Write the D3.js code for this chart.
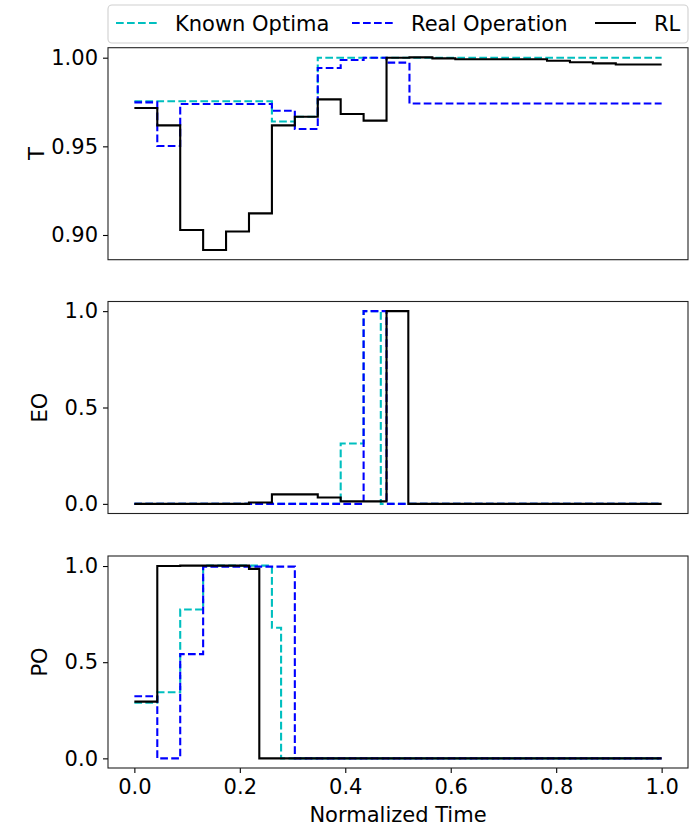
<!DOCTYPE html>
<html>
<head>
<meta charset="utf-8">
<script src="https://cdn.jsdelivr.net/npm/d3@7"></script>
<style>
  body { margin: 0; background: #fff; }
  svg text { font-family: "DejaVu Sans", sans-serif; }
</style>
</head>
<body>
<div id="chart"></div>
<script>
// Time steps are hours 0..23, normalized to 0..1 on the x axis.
// Each series is a list of [hour, value]: the value holds until the next hour listed.
const hourCount = 23;

const seriesNames = ['Known Optima', 'Real Operation', 'RL'];
const seriesColors = ['#00bfbf', '#0000ff', '#000000'];
const seriesDashed = [true, true, false];

const tKnown = [[0, 0.9754], [6, 0.964], [7, 0.9667], [8, 1.0], [23, 1.0]];
const tReal = [[0, 0.9748], [1, 0.9502], [2, 0.9739], [6, 0.9701], [7, 0.9598], [8, 0.9942],
  [9, 0.9987], [10, 1.0], [11, 0.9972], [12, 0.9742], [23, 0.9742]];
const tRL = [[0, 0.9716], [1, 0.9618], [2, 0.9028], [3, 0.8915], [4, 0.902], [5, 0.9122],
  [6, 0.9618], [7, 0.9667], [8, 0.9765], [9, 0.9682], [10, 0.9645], [11, 1.0], [12, 1.0002],
  [13, 0.9996], [14, 0.9991], [18, 0.9983], [19, 0.9974], [20, 0.9968], [21, 0.9962], [23, 0.9962]];

const eoKnown = [[0, 0], [9, 0.313], [10, 1.0], [10.75, 0], [23, 0]];
const eoReal = [[0, 0], [10, 1.0], [11, 0], [23, 0]];
const eoRL = [[0, 0], [5, 0.007], [6, 0.049], [8, 0.033], [9, 0.013], [11, 1.0], [11.95, 0], [23, 0]];

const poKnown = [[0, 0.289], [1, 0.344], [2, 0.774], [3, 1.002], [6, 0.679], [6.4, 0], [23, 0]];
const poReal = [[0, 0.323], [1, 0], [2, 0.542], [3, 0.997], [7, 0], [23, 0]];
const poRL = [[0, 0.295], [1, 1.0], [2, 1.002], [5, 0.985], [5.45, 0], [23, 0]];

const tTicks = [0.90, 0.95, 1.00];
const unitTicks = [0.0, 0.5, 1.0];
const xTicks = [0.0, 0.2, 0.4, 0.6, 0.8, 1.0];

const panels = [
  { label: 'T', series: [tKnown, tReal, tRL], ticks: tTicks, fmt: '.2f', top: 47.7, labelX: 44 },
  { label: 'EO', series: [eoKnown, eoReal, eoRL], ticks: unitTicks, fmt: '.1f', top: 301.5, labelX: 46.5 },
  { label: 'PO', series: [poKnown, poReal, poRL], ticks: unitTicks, fmt: '.1f', top: 556, labelX: 46.5 }
];

const width = 698, height = 826;
const left = 108, right = 688, panelH = 212;
const fontSize = 21;

const svg = d3.select('#chart').append('svg')
  .attr('width', width)
  .attr('height', height);

// matplotlib style 5% margins
function padded(lo, hi) {
  const m = (hi - lo) * 0.05;
  return [lo - m, hi + m];
}

const x = d3.scaleLinear().domain(padded(0, 1)).range([left, right]);

panels.forEach((p, i) => {
  const all = p.series.flat().map(d => d[1]);
  const y = d3.scaleLinear()
    .domain(padded(d3.min(all), d3.max(all)))
    .range([p.top + panelH, p.top]);

  const g = svg.append('g');

  g.append('clipPath').attr('id', 'clip' + i)
    .append('rect')
    .attr('x', left).attr('y', p.top)
    .attr('width', right - left).attr('height', panelH);

  const line = d3.line()
    .x(d => x(d[0] / hourCount))
    .y(d => y(d[1]))
    .curve(d3.curveStepAfter);

  p.series.forEach((s, k) => {
    g.append('path')
      .attr('clip-path', 'url(#clip' + i + ')')
      .attr('d', line(s))
      .attr('fill', 'none')
      .attr('stroke', seriesColors[k])
      .attr('stroke-width', 2.1)
      .attr('stroke-dasharray', seriesDashed[k] ? '7.7,3.3' : null);
  });

  // y axis
  const yAxis = d3.axisLeft(y).tickValues(p.ticks).tickFormat(d3.format(p.fmt))
    .tickSize(5).tickPadding(5);
  const ya = g.append('g').attr('transform', `translate(${left},0)`).call(yAxis);
  ya.select('.domain').remove();
  ya.selectAll('line').attr('stroke', '#000').attr('stroke-width', 1.1);
  ya.selectAll('text').attr('font-size', fontSize).attr('fill', '#000')
    .attr('font-family', '"DejaVu Sans", sans-serif');

  // x axis only under the last panel
  if (i === panels.length - 1) {
    const xAxis = d3.axisBottom(x).tickValues(xTicks).tickFormat(d3.format('.1f'))
      .tickSize(5).tickPadding(6);
    const xa = g.append('g').attr('transform', `translate(0,${p.top + panelH})`).call(xAxis);
    xa.select('.domain').remove();
    xa.selectAll('line').attr('stroke', '#000').attr('stroke-width', 1.1);
    xa.selectAll('text').attr('font-size', fontSize).attr('fill', '#000')
      .attr('font-family', '"DejaVu Sans", sans-serif');
  }

  // frame
  g.append('rect')
    .attr('x', left).attr('y', p.top)
    .attr('width', right - left).attr('height', panelH)
    .attr('fill', 'none').attr('stroke', '#222').attr('stroke-width', 1.1);

  g.append('text')
    .attr('transform', `translate(${p.labelX},${p.top + panelH / 2}) rotate(-90)`)
    .attr('text-anchor', 'middle')
    .attr('font-size', fontSize)
    .text(p.label);
});

svg.append('text')
  .attr('x', (left + right) / 2).attr('y', 822)
  .attr('text-anchor', 'middle')
  .attr('font-size', fontSize)
  .text('Normalized Time');

// legend spread across the top of the first panel
const legend = svg.append('g');
legend.append('rect')
  .attr('x', left).attr('y', 5)
  .attr('width', right - left).attr('height', 38)
  .attr('rx', 4)
  .attr('fill', '#fff').attr('fill-opacity', 0.8)
  .attr('stroke', '#d0d0d0').attr('stroke-width', 1.1);

const legendX = [116, 352, 595];
seriesNames.forEach((name, k) => {
  legend.append('line')
    .attr('x1', legendX[k]).attr('x2', legendX[k] + 41)
    .attr('y1', 23).attr('y2', 23)
    .attr('stroke', seriesColors[k])
    .attr('stroke-width', 2.1)
    .attr('stroke-dasharray', seriesDashed[k] ? '7.7,3.3' : null);
  legend.append('text')
    .attr('x', legendX[k] + 59).attr('y', 30.5)
    .attr('font-size', fontSize)
    .text(name);
});
</script>
</body>
</html>
